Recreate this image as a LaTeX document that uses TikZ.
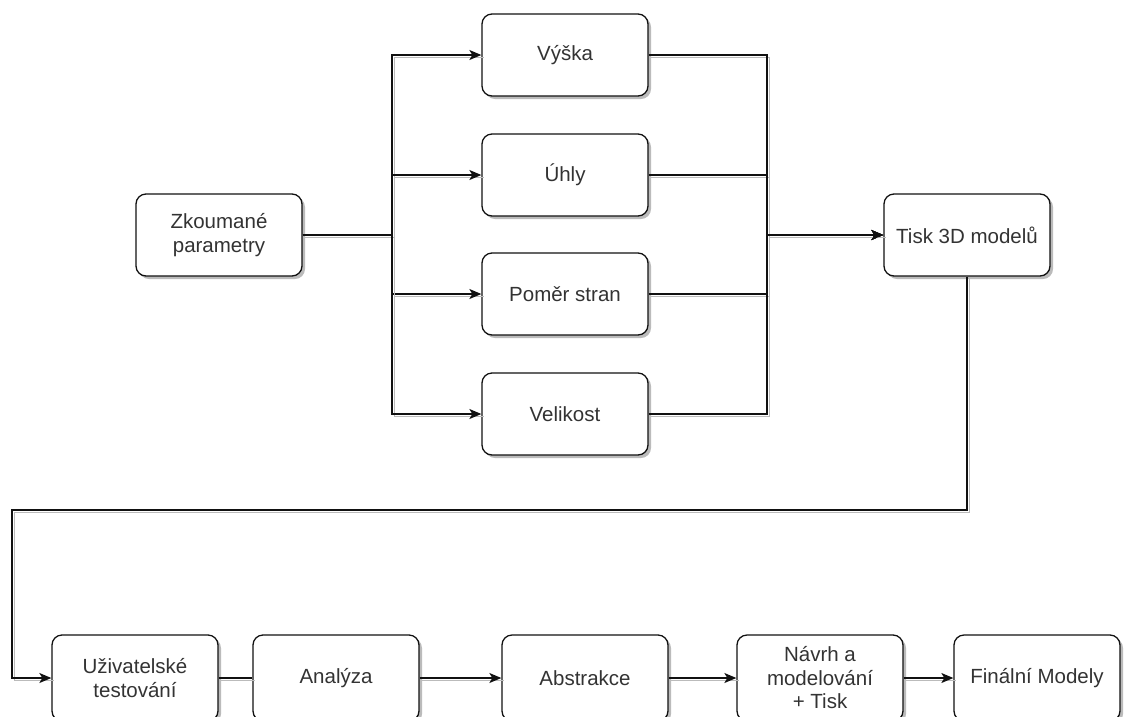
\documentclass[tikz,border=0pt]{standalone}
\usepackage{fontspec}
\setmainfont{Liberation Sans}
\usetikzlibrary{arrows.meta,shadows}
\definecolor{txt}{HTML}{333333}
\definecolor{ln}{HTML}{111111}
\definecolor{shd}{HTML}{BBBBBB}
\tikzset{
  box/.style={draw=ln, line width=1.3pt, rounded corners=10pt, fill=white,
    minimum width=166pt, minimum height=82pt, inner sep=0pt, align=center,
    text=txt, font=\fontsize{20.5}{23.5}\selectfont,
    drop shadow={shadow xshift=3pt, shadow yshift=-3pt, fill=shd, opacity=1}},
  lowbox/.style={box, minimum height=86pt},
  conn/.style={draw=ln, line width=1.3pt,
    preaction={draw=shd, arrows=-, line width=1.3pt, transform canvas={shift={(2.5pt,-2.5pt)}}}},
  arr/.style={conn, -{Stealth[length=12pt,width=10pt,inset=3pt]}}
}
\begin{document}
\begin{tikzpicture}[x=1pt,y=-1pt]
\useasboundingbox (0,0) rectangle (1128,716);
\clip (0,0) rectangle (1128,716);
% top part
\node[box] (Z) at (219,235) {Zkoumané\\parametry};
\node[box] (V) at (565,55) {Výška};
\node[box] (U) at (565,175) {Úhly};
\node[box] (P) at (565,294) {Poměr stran};
\node[box] (S) at (565,414) {Velikost};
\node[box] (T) at (967,235) {Tisk 3D modelů};
% bottom row
\node[lowbox] (A1) at (135,678) {Uživatelské\\testování};
\node[lowbox] (A2) at (336,678) {Analýza};
\node[lowbox] (A3) at (585,678) {Abstrakce};
\node[lowbox] (A4) at (820,678) {Návrh a\\modelování\\+ Tisk};
\node[lowbox] (A5) at (1037,678) {Finální Modely};
% coordinates
\coordinate (t1) at (392,235);
\coordinate (t2) at (767,235);
\coordinate (c1) at (12,510);
% fan out
\draw[arr] (Z.east) -- (t1) |- (V.west);
\draw[arr] (Z.east) -- (t1) |- (U.west);
\draw[arr] (Z.east) -- (t1) |- (P.west);
\draw[arr] (Z.east) -- (t1) |- (S.west);
% fan in
\draw[arr] (V.east) -| (t2) -- (T.west);
\draw[arr] (U.east) -| (t2) -- (T.west);
\draw[arr] (P.east) -| (t2) -- (T.west);
\draw[arr] (S.east) -| (t2) -- (T.west);
% loop back
\draw[arr] (T.south) |- (c1) |- (A1.west);
% bottom chain
\draw[conn] (A1.east) -- (A2.west);
\draw[arr] (A2.east) -- (A3.west);
\draw[arr] (A3.east) -- (A4.west);
\draw[arr] (A4.east) -- (A5.west);
\end{tikzpicture}
\end{document}
